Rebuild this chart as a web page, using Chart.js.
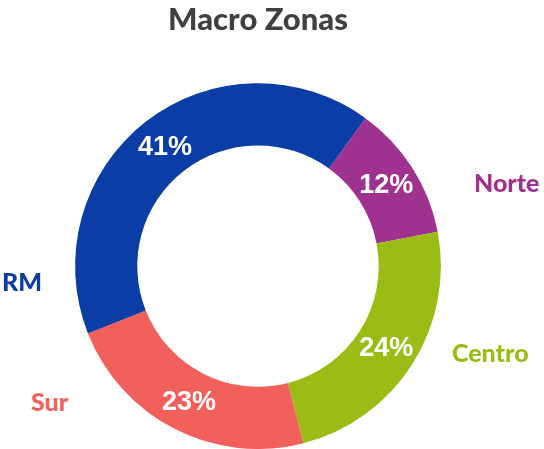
<!DOCTYPE html>
<html>
<head>
<meta charset="utf-8">
<script src="https://cdn.jsdelivr.net/npm/chart.js@4.4.1/dist/chart.umd.min.js"></script>
<style>
  html, body { margin: 0; padding: 0; background: #fff; }
  #wrap { width: 544px; height: 449px; }
</style>
</head>
<body>
<div id="wrap"><canvas id="zonasChart" width="544" height="449"></canvas></div>
<script>
// data
const zonas = ['Norte', 'Centro', 'Sur', 'RM'];
const valores = [12, 24, 23, 41];
const colores = ['#A0328F', '#9BBC14', '#F2605B', '#0A3DA6'];

// where the outside names sit, relative to the ring centre (fraction of outer radius)
const labelOffsets = [[1.36, -0.45], [1.27, 0.48], [-1.14, 0.75], [-1.29, 0.09]];

const etiquetas = {
    id: 'etiquetas',
    afterDatasetsDraw(chart) {
        const ctx = chart.ctx;
        const meta = chart.getDatasetMeta(0);
        const total = valores.reduce((a, b) => a + b, 0);
        ctx.save();
        ctx.textAlign = 'center';
        ctx.textBaseline = 'middle';
        meta.data.forEach(function(arc, i) {
            let p = arc.tooltipPosition();
            ctx.font = 'bold 27px "Liberation Sans", Arial, sans-serif';
            ctx.fillStyle = '#ffffff';
            ctx.fillText(Math.round(valores[i] / total * 100) + '%', p.x, p.y + 1);

            let r = arc.outerRadius;
            ctx.font = '900 25px Lato, "Open Sans", sans-serif';
            ctx.fillStyle = colores[i];
            ctx.fillText(zonas[i], arc.x + labelOffsets[i][0] * r, arc.y + labelOffsets[i][1] * r);
        });
        ctx.restore();
    }
};

document.addEventListener('DOMContentLoaded', function() {
    let ctx = document.getElementById('zonasChart').getContext('2d');

    new Chart(ctx, {
        type: 'doughnut',
        data: {
            labels: zonas,
            datasets: [{
                data: valores,
                backgroundColor: colores,
                borderWidth: 0
            }]
        },
        options: {
            responsive: false,
            animation: false,
            rotation: 36,
            cutout: '66%',
            layout: {
                padding: { left: 47, right: 75, top: 0, bottom: 0 }
            },
            plugins: {
                legend: { display: false },
                tooltip: { enabled: false },
                title: {
                    display: true,
                    text: 'Macro Zonas',
                    color: '#404040',
                    font: { family: 'Lato', size: 31, weight: '900' },
                    padding: { top: 1, bottom: 45 }
                }
            }
        },
        plugins: [etiquetas]
    });
}, false);
</script>
</body>
</html>
